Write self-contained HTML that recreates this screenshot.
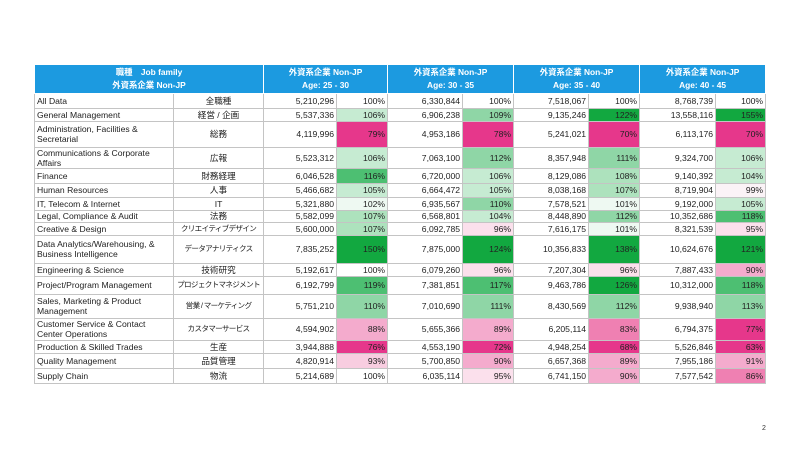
<!DOCTYPE html>
<html><head><meta charset="utf-8">
<style>
body{margin:0;width:800px;height:450px;background:#fff;position:relative;overflow:hidden;font-family:"Liberation Sans","Noto Sans CJK JP",sans-serif;}
table{position:absolute;left:34px;top:65px;width:731px;border-collapse:collapse;table-layout:fixed;font-size:8.6px;color:#222;}
td{border:1px solid #c4c4c4;padding:0 2px;line-height:10px;overflow:hidden;white-space:nowrap;}
td.l{text-align:left;white-space:normal;}
td.j{text-align:center;}
td.k{font-size:7.6px;letter-spacing:-0.7px;}
td.n,td.p{text-align:right;}
th{background:#1c9ae0;color:#fff;font-weight:bold;font-size:8.4px;border:1px solid #fff;border-top:none;line-height:13px;padding:0;}
.g1{background:#eef9f2}.g2{background:#c6ebd2}.g3{background:#ade2bd}.g4{background:#8fd6a6}.g5{background:#4dbf72}.g6{background:#12a840}
.p1{background:#fbe0ec}.p2{background:#f8cde0}.p3{background:#f4abcd}.p4{background:#ef80b2}.p5{background:#e6378b}.w9{background:#fbf3f7}
.pg{position:absolute;left:762px;top:425px;font-size:7px;color:#333;}
</style></head><body>
<table>
<colgroup><col style="width:139px"><col style="width:90px"><col style="width:73px"><col style="width:51px"><col style="width:75px"><col style="width:51px"><col style="width:75px"><col style="width:51px"><col style="width:76px"><col style="width:50px"></colgroup>
<tr style="height:28px"><th colspan="2">職種　Job family<br>外資系企業 Non-JP</th><th colspan="2">外資系企業 Non-JP<br>Age: 25 - 30</th><th colspan="2">外資系企業 Non-JP<br>Age: 30 - 35</th><th colspan="2">外資系企業 Non-JP<br>Age: 35 - 40</th><th colspan="2">外資系企業 Non-JP<br>Age: 40 - 45</th></tr>
<tr style="height:15px"><td class="l">All Data</td><td class="j">全職種</td><td class="n">5,210,296</td><td class="p">100%</td><td class="n">6,330,844</td><td class="p">100%</td><td class="n">7,518,067</td><td class="p">100%</td><td class="n">8,768,739</td><td class="p">100%</td></tr>
<tr style="height:13px"><td class="l">General Management</td><td class="j">経営 / 企画</td><td class="n">5,537,336</td><td class="p g2">106%</td><td class="n">6,906,238</td><td class="p g4">109%</td><td class="n">9,135,246</td><td class="p g6">122%</td><td class="n">13,558,116</td><td class="p g6">155%</td></tr>
<tr style="height:26px"><td class="l">Administration, Facilities &amp; Secretarial</td><td class="j">総務</td><td class="n">4,119,996</td><td class="p p5">79%</td><td class="n">4,953,186</td><td class="p p5">78%</td><td class="n">5,241,021</td><td class="p p5">70%</td><td class="n">6,113,176</td><td class="p p5">70%</td></tr>
<tr style="height:21px"><td class="l">Communications &amp; Corporate Affairs</td><td class="j">広報</td><td class="n">5,523,312</td><td class="p g2">106%</td><td class="n">7,063,100</td><td class="p g4">112%</td><td class="n">8,357,948</td><td class="p g4">111%</td><td class="n">9,324,700</td><td class="p g2">106%</td></tr>
<tr style="height:15px"><td class="l">Finance</td><td class="j">財務経理</td><td class="n">6,046,528</td><td class="p g5">116%</td><td class="n">6,720,000</td><td class="p g2">106%</td><td class="n">8,129,086</td><td class="p g3">108%</td><td class="n">9,140,392</td><td class="p g2">104%</td></tr>
<tr style="height:14px"><td class="l">Human Resources</td><td class="j">人事</td><td class="n">5,466,682</td><td class="p g2">105%</td><td class="n">6,664,472</td><td class="p g2">105%</td><td class="n">8,038,168</td><td class="p g3">107%</td><td class="n">8,719,904</td><td class="p w9">99%</td></tr>
<tr style="height:13px"><td class="l">IT, Telecom &amp; Internet</td><td class="j">IT</td><td class="n">5,321,880</td><td class="p g1">102%</td><td class="n">6,935,567</td><td class="p g4">110%</td><td class="n">7,578,521</td><td class="p g1">101%</td><td class="n">9,192,000</td><td class="p g2">105%</td></tr>
<tr style="height:12px"><td class="l">Legal, Compliance &amp; Audit</td><td class="j">法務</td><td class="n">5,582,099</td><td class="p g3">107%</td><td class="n">6,568,801</td><td class="p g2">104%</td><td class="n">8,448,890</td><td class="p g4">112%</td><td class="n">10,352,686</td><td class="p g5">118%</td></tr>
<tr style="height:13px"><td class="l">Creative &amp; Design</td><td class="j k">クリエイティブデザイン</td><td class="n">5,600,000</td><td class="p g3">107%</td><td class="n">6,092,785</td><td class="p p1">96%</td><td class="n">7,616,175</td><td class="p g1">101%</td><td class="n">8,321,539</td><td class="p p1">95%</td></tr>
<tr style="height:28px"><td class="l">Data Analytics/Warehousing, &amp; Business Intelligence</td><td class="j k">データアナリティクス</td><td class="n">7,835,252</td><td class="p g6">150%</td><td class="n">7,875,000</td><td class="p g6">124%</td><td class="n">10,356,833</td><td class="p g6">138%</td><td class="n">10,624,676</td><td class="p g6">121%</td></tr>
<tr style="height:13px"><td class="l">Engineering &amp; Science</td><td class="j">技術研究</td><td class="n">5,192,617</td><td class="p">100%</td><td class="n">6,079,260</td><td class="p p1">96%</td><td class="n">7,207,304</td><td class="p p1">96%</td><td class="n">7,887,433</td><td class="p p3">90%</td></tr>
<tr style="height:18px"><td class="l">Project/Program Management</td><td class="j k">プロジェクトマネジメント</td><td class="n">6,192,799</td><td class="p g5">119%</td><td class="n">7,381,851</td><td class="p g5">117%</td><td class="n">9,463,786</td><td class="p g6">126%</td><td class="n">10,312,000</td><td class="p g5">118%</td></tr>
<tr style="height:24px"><td class="l">Sales, Marketing &amp; Product Management</td><td class="j k">営業 / マーケティング</td><td class="n">5,751,210</td><td class="p g4">110%</td><td class="n">7,010,690</td><td class="p g4">111%</td><td class="n">8,430,569</td><td class="p g4">112%</td><td class="n">9,938,940</td><td class="p g4">113%</td></tr>
<tr style="height:22px"><td class="l">Customer Service &amp; Contact Center Operations</td><td class="j k">カスタマーサービス</td><td class="n">4,594,902</td><td class="p p3">88%</td><td class="n">5,655,366</td><td class="p p3">89%</td><td class="n">6,205,114</td><td class="p p4">83%</td><td class="n">6,794,375</td><td class="p p5">77%</td></tr>
<tr style="height:13px"><td class="l">Production &amp; Skilled Trades</td><td class="j">生産</td><td class="n">3,944,888</td><td class="p p5">76%</td><td class="n">4,553,190</td><td class="p p5">72%</td><td class="n">4,948,254</td><td class="p p5">68%</td><td class="n">5,526,846</td><td class="p p5">63%</td></tr>
<tr style="height:15px"><td class="l">Quality Management</td><td class="j">品質管理</td><td class="n">4,820,914</td><td class="p p2">93%</td><td class="n">5,700,850</td><td class="p p3">90%</td><td class="n">6,657,368</td><td class="p p3">89%</td><td class="n">7,955,186</td><td class="p p3">91%</td></tr>
<tr style="height:15px"><td class="l">Supply Chain</td><td class="j">物流</td><td class="n">5,214,689</td><td class="p">100%</td><td class="n">6,035,114</td><td class="p p1">95%</td><td class="n">6,741,150</td><td class="p p3">90%</td><td class="n">7,577,542</td><td class="p p4">86%</td></tr>
</table>
<div class="pg">2</div>
</body></html>
